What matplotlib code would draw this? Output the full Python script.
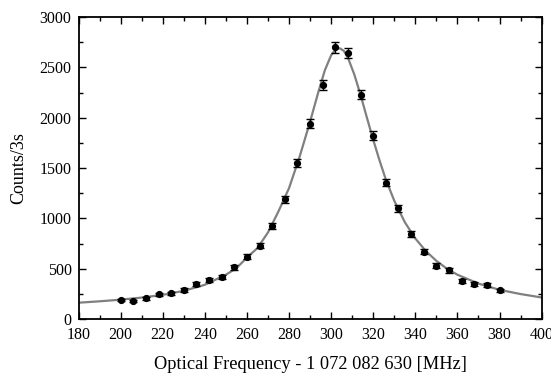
import matplotlib
matplotlib.use("Agg")
import matplotlib.pyplot as plt
from matplotlib.ticker import MultipleLocator

plt.rcParams["font.family"] = ["Liberation Serif", "DejaVu Serif"]

# measured counts (x offset in MHz)
FREQ = [200, 206, 212, 218, 224, 230, 236, 242, 248, 254, 260, 266, 272, 278, 284, 290,
        296, 302, 308, 314, 320, 326, 332, 338, 344, 350, 356, 362, 368, 374, 380]
COUNTS = [189, 179, 205, 245, 255, 288, 348, 390, 420, 513, 619, 728, 923, 1192, 1548, 1938,
          2324, 2698, 2645, 2230, 1820, 1355, 1100, 844, 669, 530, 483, 377, 348, 338, 285]
ERRORS = [14, 13, 14, 16, 16, 17, 19, 20, 20, 23, 25, 27, 30, 35, 39, 44,
          48, 52, 51, 47, 43, 37, 33, 29, 26, 23, 22, 19, 19, 18, 17]

# fitted line
FIT_X = [180, 190, 200, 210, 220, 230, 240, 250, 255, 260, 265, 270, 275, 280, 285, 290,
         294, 297, 300, 302, 304, 306, 308, 311, 314, 317, 320, 323, 326, 330, 335, 340,
         345, 350, 355, 360, 370, 380, 390, 400]
FIT_Y = [162, 176, 192, 213, 240, 280, 340, 440, 505, 610, 705, 860, 1070, 1300, 1610, 1960,
         2260, 2470, 2620, 2675, 2690, 2665, 2595, 2430, 2225, 2000, 1780, 1575, 1385, 1175, 962, 800,
         675, 578, 500, 440, 352, 290, 248, 214]

fig = plt.figure(figsize=(5.51, 3.74), dpi=100)
ax = fig.add_axes([0.1425, 0.147, 0.8405, 0.8075])

ax.plot(FIT_X, FIT_Y, color="#808080", lw=1.6, zorder=2)
ax.errorbar(FREQ, COUNTS, yerr=ERRORS, fmt="o", color="black", ms=4.2,
            elinewidth=1.0, capsize=3, capthick=1.0, zorder=3)

ax.set_xlim(180, 400)
ax.set_ylim(0, 3000)
ax.xaxis.set_major_locator(MultipleLocator(20))
ax.xaxis.set_minor_locator(MultipleLocator(10))
ax.yaxis.set_major_locator(MultipleLocator(500))
ax.yaxis.set_minor_locator(MultipleLocator(250))
ax.tick_params(which="both", direction="in", top=True, right=True, labelsize=11.5, width=1.0)
ax.tick_params(which="major", length=5)
ax.tick_params(which="minor", length=3)
ax.tick_params(axis="x", pad=6)
ax.tick_params(axis="y", pad=5)
for sp in ax.spines.values():
    sp.set_linewidth(1.3)

ax.set_xlabel("Optical Frequency - 1 072 082 630 [MHz]", fontsize=13.2, labelpad=9)
ax.set_ylabel("Counts/3s", fontsize=13, labelpad=9)

fig.savefig("out.png", dpi=100)
